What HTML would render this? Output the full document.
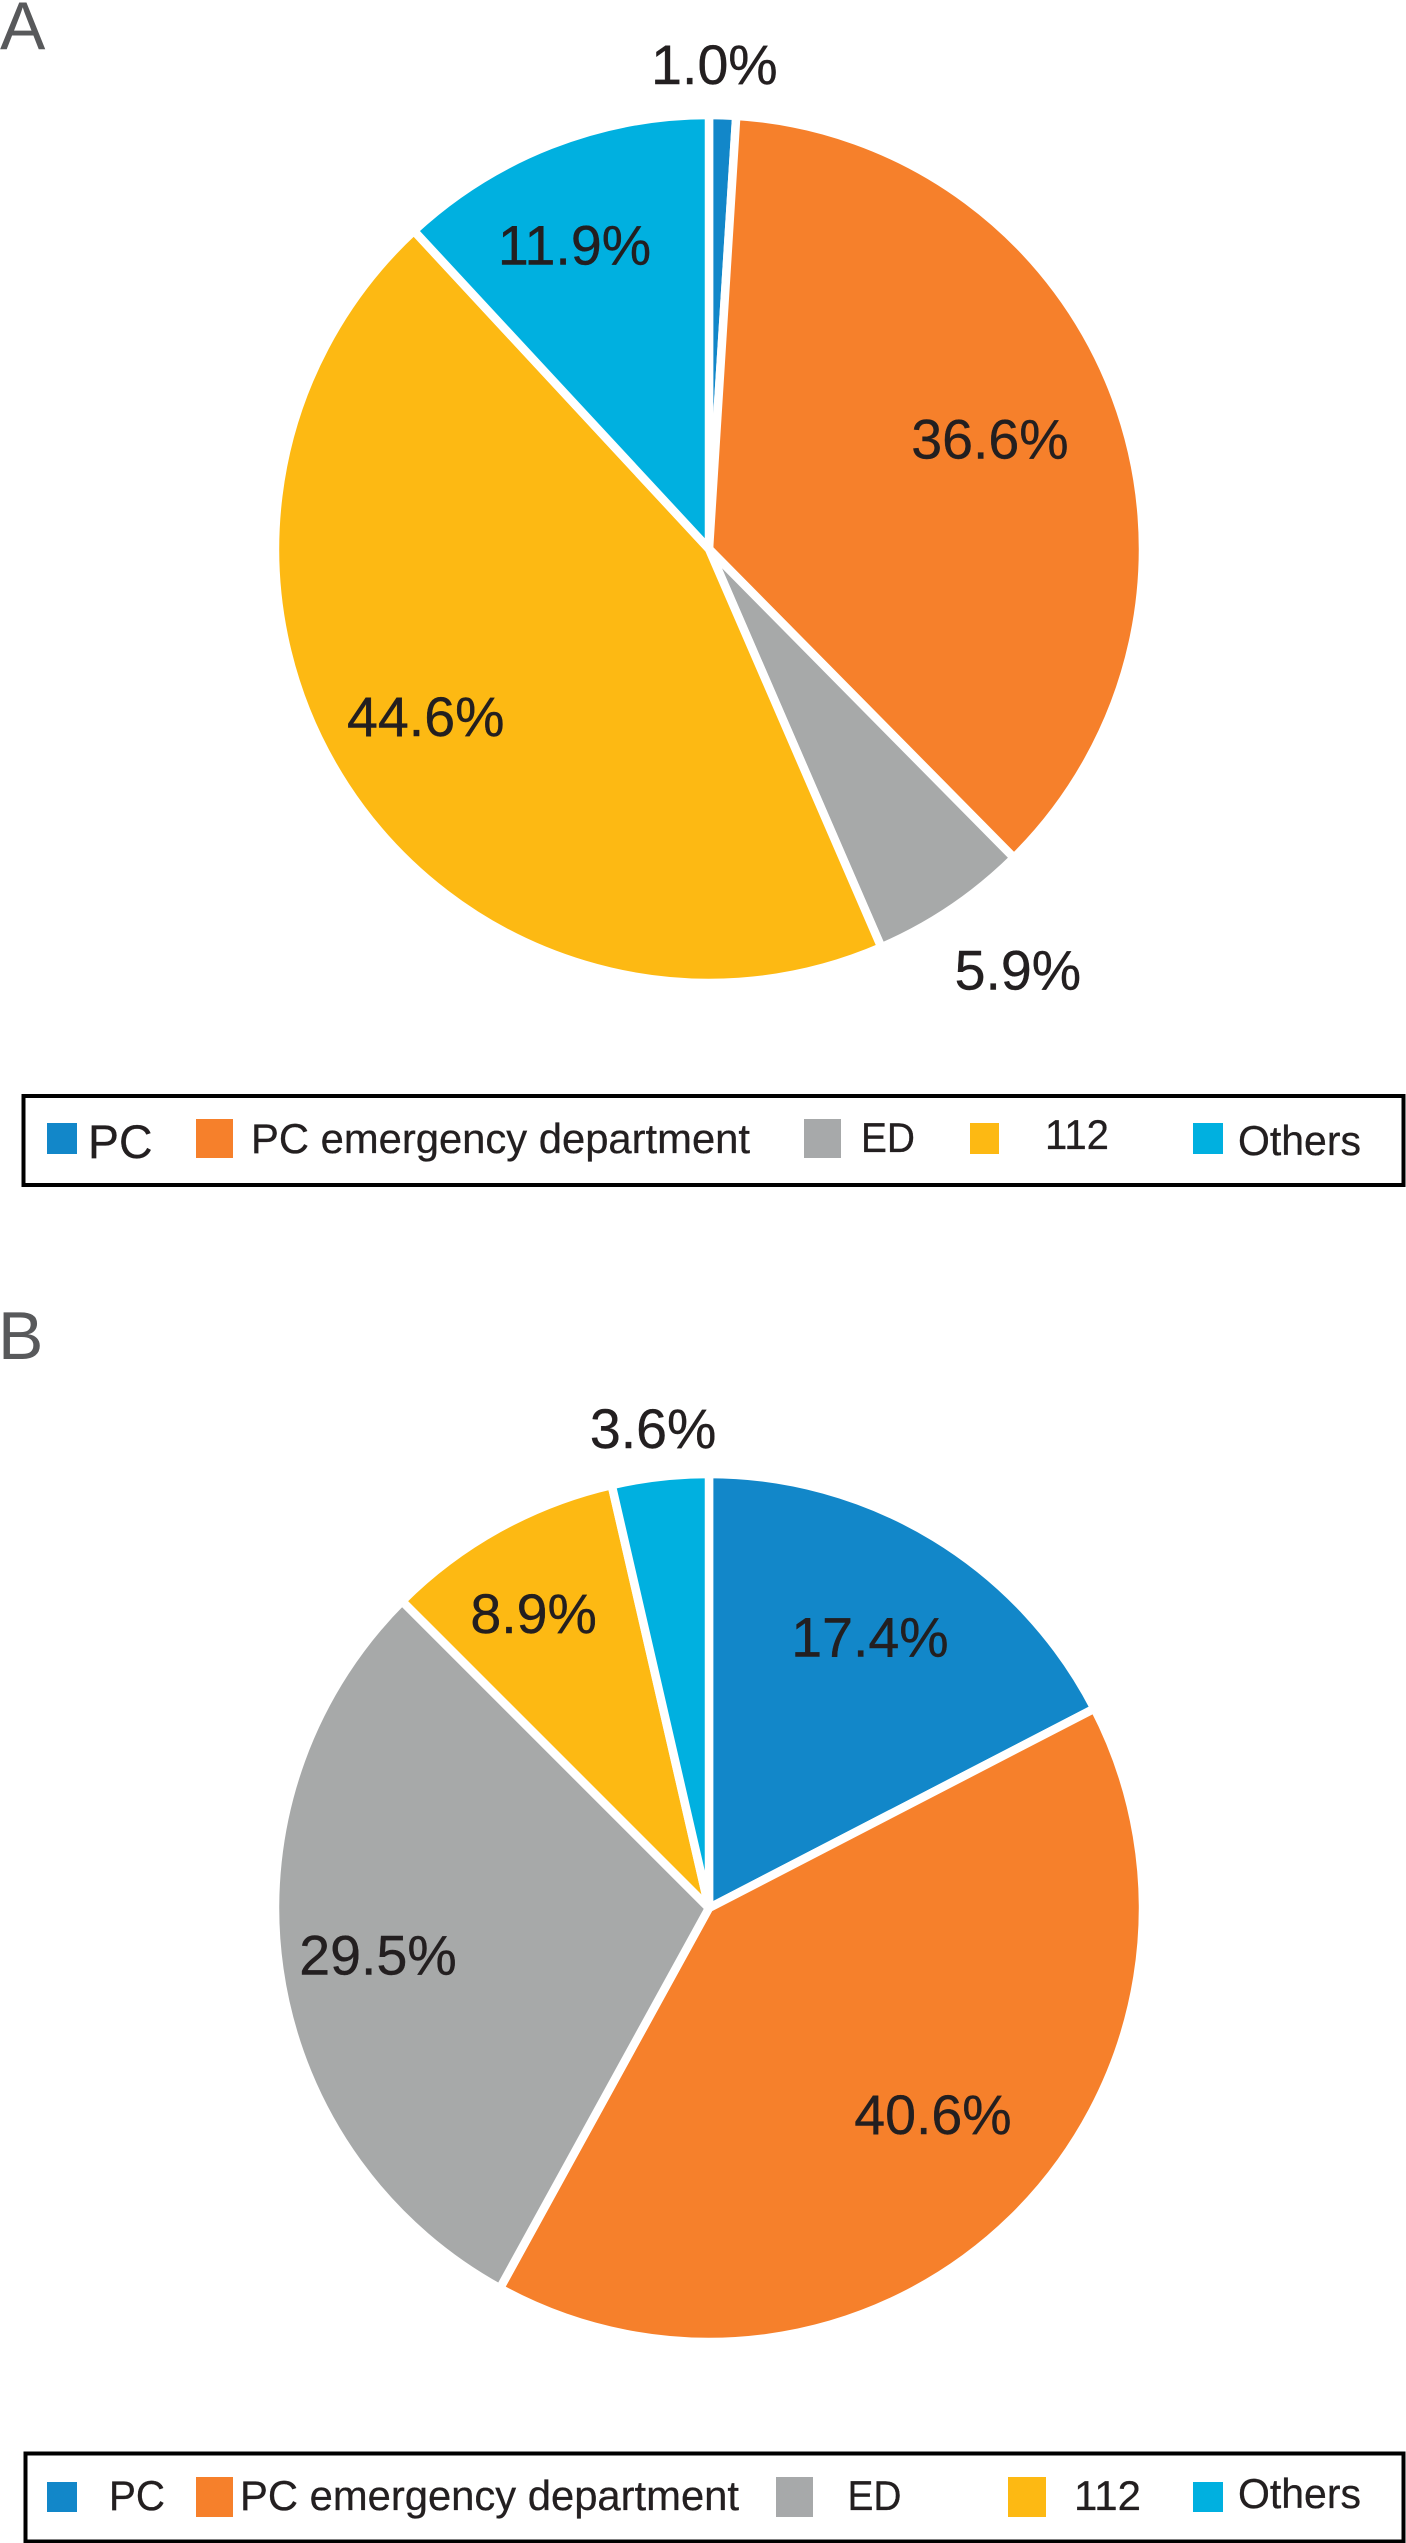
<!DOCTYPE html>
<html lang="en">
<head>
<meta charset="utf-8">
<title>Pie charts A and B</title>
<style>
html,body{margin:0;padding:0;background:#fff;}
svg{display:block;}
text{font-family:"Liberation Sans",Arial,sans-serif;fill:#231f20;}
.panel{fill:#58595b;font-size:68px;}
.val{font-size:55.5px;text-anchor:middle;stroke:#231f20;stroke-width:0.4px;}
.leg{font-size:42px;stroke:#231f20;stroke-width:0.3px;}
</style>
</head>
<body>
<svg id="chart" xmlns="http://www.w3.org/2000/svg" width="1406" height="2543" viewBox="0 0 1406 2543">
  <rect x="0" y="0" width="1406" height="2543" fill="#fff"/>
  <text class="panel" x="0" y="49">A</text>
  <text class="panel" x="-2" y="1359">B</text>
  <g id="pie-a"></g>
  <g id="pie-b"></g>

  <g>
    <rect x="23.5" y="1096" width="1380" height="89" fill="#fff" stroke="#000" stroke-width="4"/>
    <g>
      <rect x="47" y="1123" width="30" height="31" fill="#1287c9"/>
      <text class="leg" style="font-size:47px" x="88" y="1158" textLength="64.5" lengthAdjust="spacingAndGlyphs">PC</text>
    </g>
    <g>
      <rect x="196" y="1119" width="37" height="39" fill="#f6802b"/>
      <text class="leg" x="251" y="1153" textLength="499" lengthAdjust="spacingAndGlyphs">PC emergency department</text>
    </g>
    <g>
      <rect x="804" y="1119" width="37" height="39" fill="#a7a9aa"/>
      <text class="leg" x="861" y="1152" textLength="54" lengthAdjust="spacingAndGlyphs">ED</text>
    </g>
    <g>
      <rect x="970" y="1123" width="29" height="31" fill="#fdb913"/>
      <text class="leg" x="1045" y="1149" textLength="64" lengthAdjust="spacingAndGlyphs">112</text>
    </g>
    <g>
      <rect x="1193" y="1123" width="30" height="31" fill="#00b0e0"/>
      <text class="leg" x="1238" y="1155" textLength="123" lengthAdjust="spacingAndGlyphs">Others</text>
    </g>
  </g>

  <g>
    <rect x="25.5" y="2453.5" width="1378" height="88" fill="#fff" stroke="#000" stroke-width="4"/>
    <g>
      <rect x="47" y="2482" width="30" height="30" fill="#1287c9"/>
      <text class="leg" x="109" y="2510" textLength="56" lengthAdjust="spacingAndGlyphs">PC</text>
    </g>
    <g>
      <rect x="196" y="2477" width="37" height="40" fill="#f6802b"/>
      <text class="leg" x="240" y="2510" textLength="499" lengthAdjust="spacingAndGlyphs">PC emergency department</text>
    </g>
    <g>
      <rect x="776" y="2477" width="37" height="40" fill="#a7a9aa"/>
      <text class="leg" x="847.5" y="2510" textLength="54" lengthAdjust="spacingAndGlyphs">ED</text>
    </g>
    <g>
      <rect x="1008" y="2477" width="38" height="40" fill="#fdb913"/>
      <text class="leg" x="1074" y="2510" textLength="67" lengthAdjust="spacingAndGlyphs">112</text>
    </g>
    <g>
      <rect x="1193" y="2482" width="30" height="30" fill="#00b0e0"/>
      <text class="leg" x="1238" y="2508" textLength="123" lengthAdjust="spacingAndGlyphs">Others</text>
    </g>
  </g>
</svg>
<script>
// Chart data
const categories = ['PC', 'PC emergency department', 'ED', '112', 'Others'];
const categoryKeys = ['pc', 'pc-emergency', 'ed', '112', 'others'];
const categoryColors = ['#1287c9', '#f6802b', '#a7a9a9', '#fdb913', '#00b0e0'];
const valuesA = [1.0, 36.6, 5.9, 44.6, 11.9];
const valuesB = [17.4, 40.6, 29.5, 8.9, 3.6];

// Layout (not data)
const pieLayoutA = { cx: 709, cy: 549, r: 434, labelR: 300 };
const pieLayoutB = { cx: 709, cy: 1908, r: 434, labelR: 300 };
const labelNudgeA = [[-4, -165], [0, 14.5], [141, 192], [-32, 23], [-25, -5]];
const labelNudgeB = [[5, 5], [14.5, 11], [-34, 24], [-30, -12.6], [-22, -162]];

const SVG_NS = 'http://www.w3.org/2000/svg';

function polar(layout, radius, value, total) {
  const angle = (value / total) * 2 * Math.PI;
  return {
    x: layout.cx + radius * Math.sin(angle),
    y: layout.cy - radius * Math.cos(angle)
  };
}

function drawPie(groupId, prefix, values, layout, nudges) {
  const group = document.getElementById(groupId);
  const total = values.reduce(function (a, b) { return a + b; }, 0);
  let cumulative = 0;
  values.forEach(function (value, i) {
    const start = polar(layout, layout.r, cumulative, total);
    const end = polar(layout, layout.r, cumulative + value, total);
    const largeArc = value / total > 0.5 ? 1 : 0;
    const slice = document.createElementNS(SVG_NS, 'path');
    slice.setAttribute('d',
      'M' + layout.cx + ' ' + layout.cy +
      'L' + start.x + ' ' + start.y +
      'A' + layout.r + ' ' + layout.r + ' 0 ' + largeArc + ' 1 ' + end.x + ' ' + end.y + 'Z');
    slice.setAttribute('fill', categoryColors[i]);
    slice.setAttribute('stroke', '#fff');
    slice.setAttribute('stroke-width', '8.5');
    slice.setAttribute('stroke-linejoin', 'round');
    
    
    group.appendChild(slice);
    cumulative += value;
  });
  cumulative = 0;
  values.forEach(function (value, i) {
    const mid = polar(layout, layout.labelR, cumulative + value / 2, total);
    const label = document.createElementNS(SVG_NS, 'text');
    label.setAttribute('class', 'val');
    label.setAttribute('x', mid.x + nudges[i][0]);
    label.setAttribute('y', mid.y + nudges[i][1]);
    
    
    label.textContent = value.toFixed(1) + '%';
    group.appendChild(label);
    cumulative += value;
  });
}

drawPie('pie-a', 'pie-a', valuesA, pieLayoutA, labelNudgeA);
drawPie('pie-b', 'pie-b', valuesB, pieLayoutB, labelNudgeB);
</script>
</body>
</html>
